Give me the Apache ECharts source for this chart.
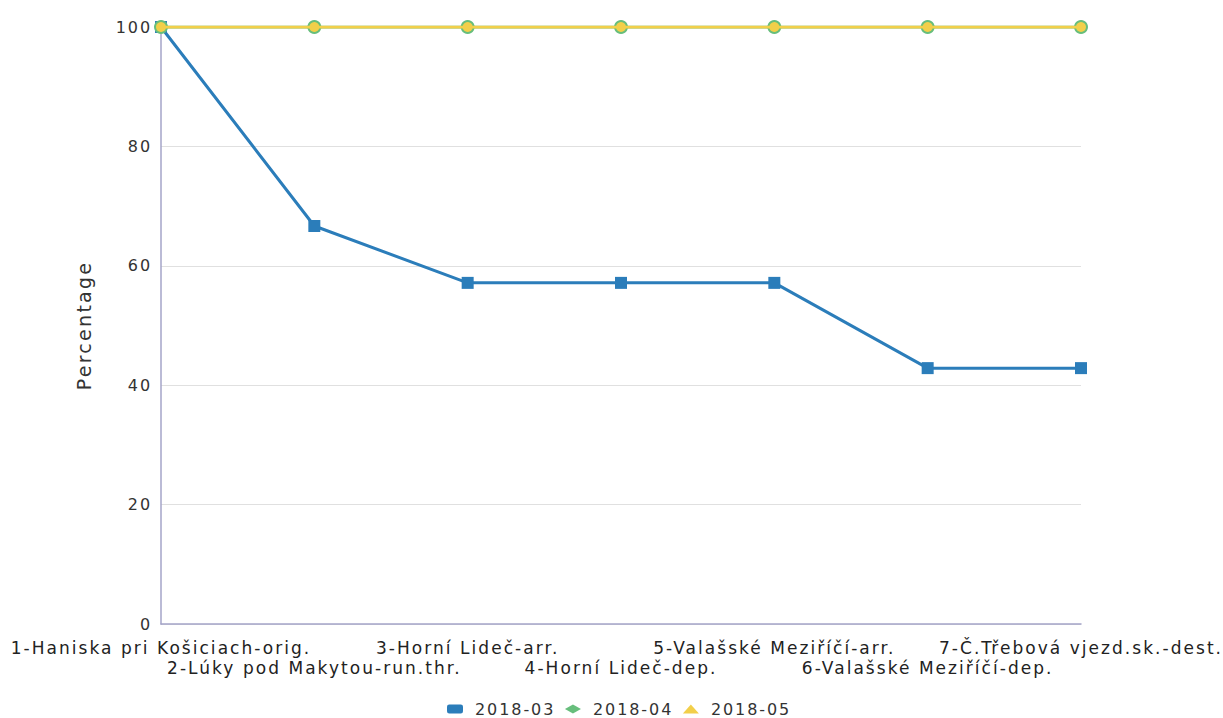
<!DOCTYPE html>
<html>
<head>
<meta charset="utf-8">
<script src="https://cdn.jsdelivr.net/npm/echarts@6/dist/echarts.min.js"></script>
<style>
  html,body{margin:0;padding:0;background:#fff;}
  #chart{width:1223px;height:718px;}
  /* the reference text is set wide */
  #chart svg text{letter-spacing:0.12em;}
</style>
</head>
<body>
<div id="chart"></div>
<script>
var categories = [
    '1-Haniska pri Košiciach-orig.',
    '2-Lúky pod Makytou-run.thr.',
    '3-Horní Lideč-arr.',
    '4-Horní Lideč-dep.',
    '5-Valašské Meziříčí-arr.',
    '6-Valašské Meziříčí-dep.',
    '7-Č.Třebová vjezd.sk.-dest.'
];
var seriesNames = ['2018-03', '2018-04', '2018-05'];
var data201803 = [100, 66.67, 57.14, 57.14, 57.14, 42.86, 42.86];
var data201804 = [100, 100, 100, 100, 100, 100, 100];
var data201805 = [100, 100, 100, 100, 100, 100, 100];
var yTicks = [0, 20, 40, 60, 80, 100];

var myChart = echarts.init(document.getElementById('chart'), null, {renderer: 'svg'});
var font = "'DejaVu Sans', sans-serif";
var option = {
    animation: false,
    color: ['#2b7dba', '#67be7c', '#f2cf4a'],
    grid: {left: 161, right: 142, top: 27, bottom: 94},
    legend: {
        top: 696,
        left: 442,
        itemWidth: 16,
        itemHeight: 9,
        itemGap: 25,
        formatter: function(name){ return ' ' + name; },
        textStyle: {fontFamily: font, fontSize: 16, color: '#333'},
        data: [
            {name: seriesNames[0], icon: 'roundRect'},
            {name: seriesNames[1], icon: 'diamond'},
            {name: seriesNames[2], icon: 'triangle'}
        ]
    },
    xAxis: {
        type: 'category',
        boundaryGap: false,
        data: categories,
        axisLine: {lineStyle: {color: '#a4a4c8', width: 1.5}},
        axisTick: {show: false},
        axisLabel: {
            interval: 0,
            fontFamily: font,
            fontSize: 17,
            color: '#222',
            margin: 14,
            lineHeight: 20,
            formatter: function(v, i){
                return i % 2 == 1 ? '\n' + v : v;
            }
        }
    },
    yAxis: {
        type: 'value',
        min: yTicks[0],
        max: yTicks[yTicks.length - 1],
        interval: 20,
        name: 'Percentage',
        nameLocation: 'middle',
        nameGap: 68,
        nameTextStyle: {fontFamily: font, fontSize: 19, color: '#333'},
        axisLine: {show: true, lineStyle: {color: '#a4a4c8', width: 1.5}},
        axisTick: {show: false},
        axisLabel: {fontFamily: font, fontSize: 16, color: '#333', margin: 9},
        splitLine: {lineStyle: {color: '#e0e0e0'}}
    },
    series: [
        {
            name: seriesNames[0], type: 'line', data: data201803,
            symbol: 'rect', symbolSize: 12,
            lineStyle: {width: 3}, z: 3
        },
        {
            name: seriesNames[1], type: 'line', data: data201804,
            symbol: 'circle', symbolSize: 14,
            lineStyle: {width: 3}, z: 4
        },
        {
            name: seriesNames[2], type: 'line', data: data201805,
            symbol: 'circle', symbolSize: 10,
            lineStyle: {width: 3}, z: 5
        }
    ]
};
myChart.setOption(option);
</script>
</body>
</html>
